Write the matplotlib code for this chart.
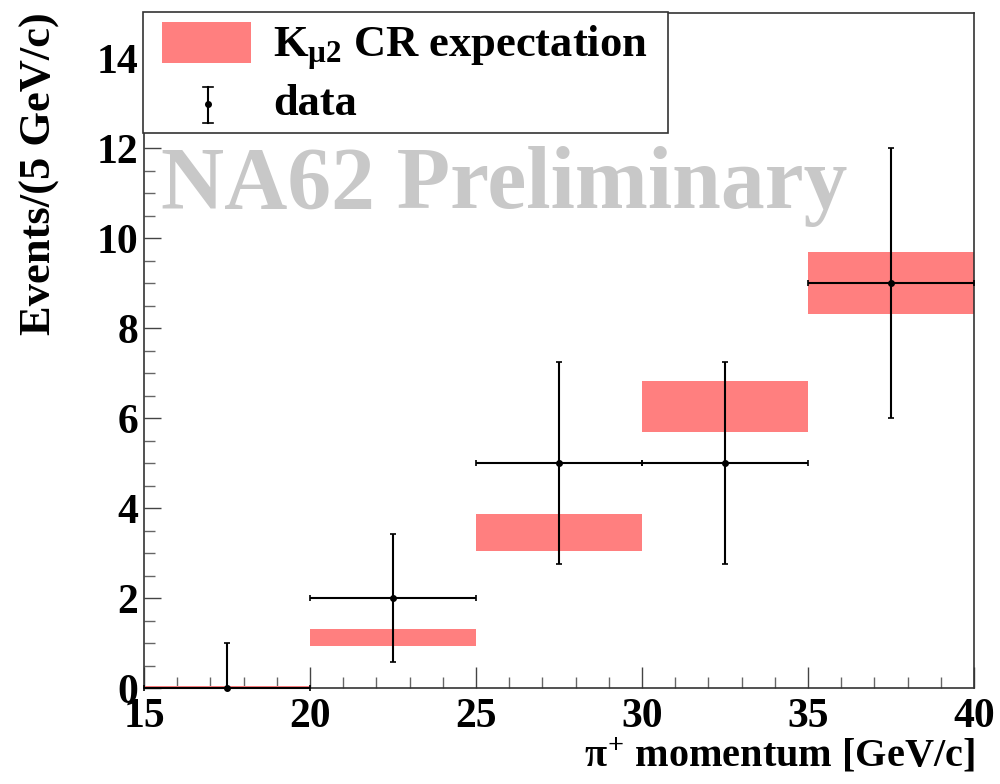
import matplotlib
matplotlib.use("Agg")
import matplotlib.pyplot as plt
from matplotlib.patches import Rectangle
from matplotlib.ticker import MultipleLocator
import numpy as np

plt.rcParams['font.family'] = ['Liberation Serif', 'DejaVu Serif']
plt.rcParams['font.weight'] = 'bold'
plt.rcParams['mathtext.fontset'] = 'custom'
plt.rcParams['mathtext.rm'] = 'Liberation Serif:bold'
plt.rcParams['mathtext.it'] = 'Liberation Serif:bold'
plt.rcParams['mathtext.bf'] = 'Liberation Serif:bold'

# Momentum bins [GeV/c]
bin_low = [15, 20, 25, 30, 35]
bin_width = 5

# K_mu2 control-region expectation and its uncertainty per bin
exp_value = [0.025, 1.13, 3.45, 6.26, 9.00]
exp_error = [0.025, 0.19, 0.41, 0.57, 0.68]

# Observed events per bin with error bars
data_x = [17.5, 22.5, 27.5, 32.5, 37.5]
data_y = [0, 2, 5, 5, 9]
data_err_low = [0, 1.414, 2.236, 2.236, 3.0]
data_err_high = [1.0, 1.414, 2.236, 2.236, 3.0]
data_xerr = [2.5, 2.5, 2.5, 2.5, 2.5]

x_ticks = [15, 20, 25, 30, 35, 40]
y_ticks = [0, 2, 4, 6, 8, 10, 12, 14]

band_color = '#ff7f7f'

fig = plt.figure(figsize=(10, 7.84), dpi=100)
ax = fig.add_axes([0.144, 0.1224, 0.830, 0.861])

ax.set_xlim(15, 40)
ax.set_ylim(0, 15)

lows = np.array(exp_value) - np.array(exp_error)
ax.bar(bin_low, 2 * np.array(exp_error), width=bin_width, bottom=lows,
       align='edge', color=band_color, edgecolor='none', zorder=2)

ax.errorbar(data_x, data_y, yerr=[data_err_low, data_err_high], xerr=data_xerr,
            fmt='o', color='black', markersize=4, elinewidth=1.5,
            capsize=2, capthick=1.2, zorder=4, clip_on=False)

ax.set_xticks(x_ticks)
ax.set_yticks(y_ticks)
ax.xaxis.set_minor_locator(MultipleLocator(1))
ax.yaxis.set_minor_locator(MultipleLocator(0.5))
ax.tick_params(axis='x', which='major', direction='in', length=15, width=1,
               color='#444444', labelsize=30, pad=7)
ax.tick_params(axis='x', which='minor', direction='in', length=8, width=1,
               color='#666666')
ax.tick_params(axis='y', which='major', direction='in', length=12, width=1,
               color='#444444', labelsize=30, pad=4)
ax.tick_params(axis='y', which='minor', direction='in', length=8, width=1,
               color='#666666')
for lab in ax.get_xticklabels() + ax.get_yticklabels():
    lab.set_fontweight('bold')
for sp in ax.spines.values():
    sp.set_linewidth(1.2)
    sp.set_color('#333333')

# Watermark, kept underneath the data
ax.text(0.504, 1 - 208 / 784, 'NA62 Preliminary', color='#c8c8c8',
        fontsize=63, fontweight='bold', ha='center', va='baseline',
        transform=fig.transFigure, zorder=1)

# Axis titles
fig.text(0.975, 1 - 766 / 784, r'$\pi^{+}$ momentum [GeV/c]', fontsize=29,
         fontweight='bold', ha='right', va='baseline')
fig.text(0.040, 1 - 12 / 784, 'Events/(5 GeV/c)', fontsize=32,
         fontweight='bold', ha='center', va='top', rotation=90)

# Legend box
def fx(px):
    return px / 1000

def fy(py):
    return 1 - py / 784

fig.patches.append(Rectangle((fx(143), fy(133)), fx(668) - fx(143), fy(12) - fy(133),
                             transform=fig.transFigure, facecolor='white',
                             edgecolor='#333333', linewidth=1.2, zorder=5))
fig.patches.append(Rectangle((fx(162), fy(63)), fx(251) - fx(162), fy(22) - fy(63),
                             transform=fig.transFigure, facecolor=band_color,
                             edgecolor='none', zorder=6))
fig.text(fx(273), fy(57), r'K$_{\mu 2}$ CR expectation', fontsize=32,
         fontweight='bold', ha='left', va='baseline', zorder=7)
fig.lines.append(plt.Line2D([fx(208), fx(208)], [fy(87), fy(123)],
                            transform=fig.transFigure, color='black', lw=1.5, zorder=7))
for yy in (87, 123):
    fig.lines.append(plt.Line2D([fx(203), fx(213)], [fy(yy), fy(yy)],
                                transform=fig.transFigure, color='black', lw=1.2, zorder=7))
fig.lines.append(plt.Line2D([fx(208)], [fy(104)], transform=fig.transFigure,
                            marker='o', markersize=4, color='black', zorder=7))
fig.text(fx(273), fy(115), 'data', fontsize=32, fontweight='bold',
         ha='left', va='baseline', zorder=7)

fig.savefig('out.png', dpi=100)
